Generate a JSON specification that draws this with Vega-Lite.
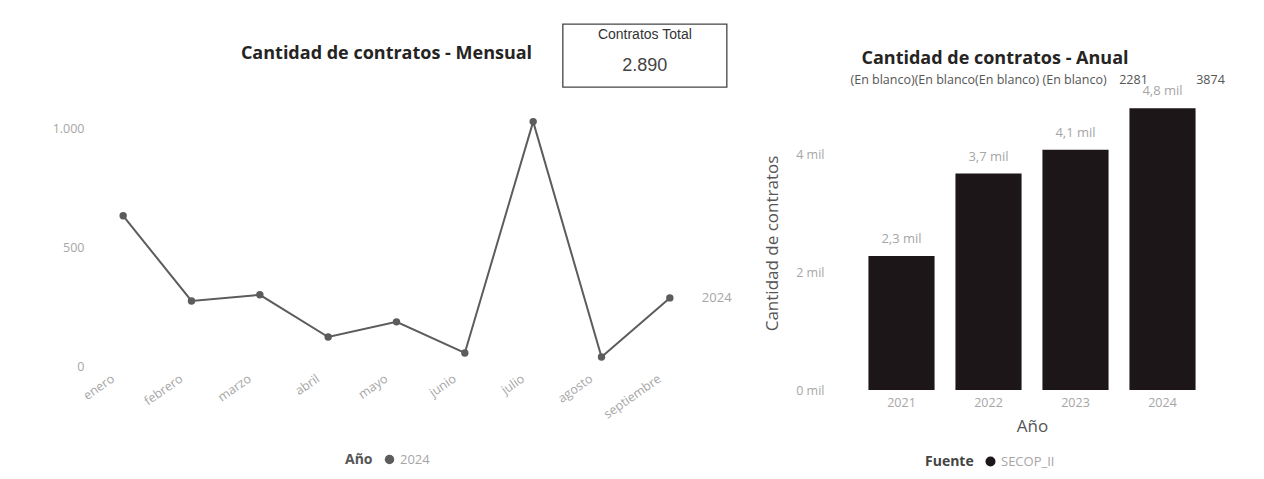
{
  "$schema": "https://vega.github.io/schema/vega-lite/v6.json",
  "background": "white",
  "padding": {"left": 52, "top": 21, "right": 5, "bottom": 2},
  "spacing": 31,
  "resolve": {"scale": {"color": "independent"}, "legend": {"color": "independent"}},
  "config": {
    "view": {"stroke": null},
    "font": "Open Sans",
    "axis": {"labelFont": "Open Sans", "titleFont": "Open Sans", "grid": false, "domain": false, "ticks": false},
    "legend": {"labelFont": "Open Sans", "titleFont": "Open Sans"}
  },
  "datasets": {
    "mensual": [
      {"mes": "enero", "anio": "2024", "contratos": 633},
      {"mes": "febrero", "anio": "2024", "contratos": 274},
      {"mes": "marzo", "anio": "2024", "contratos": 300},
      {"mes": "abril", "anio": "2024", "contratos": 122},
      {"mes": "mayo", "anio": "2024", "contratos": 186},
      {"mes": "junio", "anio": "2024", "contratos": 55},
      {"mes": "julio", "anio": "2024", "contratos": 1030},
      {"mes": "agosto", "anio": "2024", "contratos": 38},
      {"mes": "septiembre", "anio": "2024", "contratos": 287}
    ],
    "anual": [
      {"anio": "2021", "fuente": "SECOP_II", "contratos": 2281, "etiqueta": "2,3 mil"},
      {"anio": "2022", "fuente": "SECOP_II", "contratos": 3680, "etiqueta": "3,7 mil"},
      {"anio": "2023", "fuente": "SECOP_II", "contratos": 4085, "etiqueta": "4,1 mil"},
      {"anio": "2024", "fuente": "SECOP_II", "contratos": 4790, "etiqueta": "4,8 mil"}
    ],
    "tarjeta": [
      {"titulo": "Contratos Total", "valor": "2.890"}
    ],
    "encabezado": [
      {"grupo": "a", "texto": "(En blanco)(En blanco(En blanco) (En blanco)"},
      {"grupo": "b", "texto": "2281"},
      {"grupo": "c", "texto": "3874"}
    ]
  },
  "hconcat": [
    {
      "width": 615,
      "height": 270,
      "title": {"text": "Cantidad de contratos - Mensual", "frame": "group", "anchor": "middle", "dx": -10, "offset": -42, "fontSize": 18, "fontWeight": "bold", "font": "Open Sans", "color": "#252423"},
      "layer": [
        {
          "data": {"name": "mensual"},
          "mark": {"type": "line", "color": "#5c5c5c", "strokeWidth": 2},
          "encoding": {
            "x": {"field": "mes", "type": "ordinal", "scale": {"type": "point", "padding": 0.5, "domain": ["enero","febrero","marzo","abril","mayo","junio","julio","agosto","septiembre"]},
              "axis": {"title": null, "labelAngle": -35, "labelColor": "#a6a6a6", "labelFontSize": 12.5, "labelPadding": 6, "labelOffset": -14}},
            "y": {"field": "contratos", "type": "quantitative", "scale": {"domain": [0, 1138], "nice": false},
              "axis": {"title": null, "values": [0, 500, 1000], "labelExpr": "replace(format(datum.value, ','), ',', '.')", "labelColor": "#a6a6a6", "labelFontSize": 12.5, "labelPadding": 5}}
          }
        },
        {
          "data": {"name": "mensual"},
          "mark": {"type": "point", "filled": true, "size": 55, "opacity": 1},
          "encoding": {
            "x": {"field": "mes", "type": "ordinal"},
            "y": {"field": "contratos", "type": "quantitative"},
            "color": {"field": "anio", "type": "nominal", "scale": {"range": ["#5c5c5c"]},
              "legend": {"title": "Año", "orient": "none", "legendX": 256, "legendY": 357, "direction": "horizontal", "titleOrient": "left", "titleFontSize": 14, "titleFontWeight": "bold", "titleColor": "#555555", "labelColor": "#a6a6a6", "labelFontSize": 13, "symbolType": "circle", "symbolSize": 90, "titlePadding": 10}}
          }
        },
        {
          "data": {"name": "mensual"},
          "transform": [{"filter": "datum.mes == 'septiembre'"}],
          "mark": {"type": "text", "align": "left", "dx": 32, "fontSize": 13, "color": "#a6a6a6"},
          "encoding": {
            "x": {"field": "mes", "type": "ordinal"},
            "y": {"field": "contratos", "type": "quantitative"},
            "text": {"field": "anio"}
          }
        },
        {
          "data": {"name": "tarjeta"},
          "mark": {"type": "point", "shape": "M-1,-0.384H1V0.384H-1Z", "size": 26896, "filled": false, "stroke": "#444444", "strokeWidth": 1.3, "opacity": 1, "xOffset": -25, "yOffset": -2},
          "encoding": {
            "x": {"datum": "septiembre"},
            "y": {"datum": 1300}
          }
        },
        {
          "data": {"name": "tarjeta"},
          "mark": {"type": "text", "dx": -25, "dy": -1, "font": "Liberation Sans", "fontSize": 14, "color": "#333333"},
          "encoding": {
            "x": {"datum": "septiembre"},
            "y": {"datum": 1391},
            "text": {"field": "titulo"}
          }
        },
        {
          "data": {"name": "tarjeta"},
          "mark": {"type": "text", "dx": -25, "dy": -2, "font": "Liberation Sans", "fontSize": 18, "color": "#444444"},
          "encoding": {
            "x": {"datum": "septiembre"},
            "y": {"datum": 1258},
            "text": {"field": "valor"}
          }
        }
      ]
    },
    {
      "width": 348,
      "height": 294,
      "title": {"text": "Cantidad de contratos - Anual", "frame": "group", "anchor": "middle", "dx": -37, "offset": 6, "fontSize": 18, "fontWeight": "bold", "font": "Open Sans", "color": "#252423"},
      "layer": [
        {
          "data": {"name": "anual"},
          "mark": {"type": "bar", "color": "#1c1618"},
          "encoding": {
            "x": {"field": "anio", "type": "ordinal", "scale": {"domain": ["2021","2022","2023","2024"], "paddingInner": 0.24, "paddingOuter": 0.12},
              "axis": {"title": "Año", "labelAngle": 0, "labelColor": "#a6a6a6", "labelFontSize": 12.5, "labelPadding": 6, "titleFontSize": 17, "titleFontWeight": "normal", "titleColor": "#555555", "titlePadding": 10}},
            "y": {"field": "contratos", "type": "quantitative", "scale": {"domain": [0, 5000], "nice": false},
              "axis": {"title": "Cantidad de contratos", "values": [0, 2000, 4000], "labelExpr": "format(datum.value / 1000, 'd') + ' mil'", "labelColor": "#a6a6a6", "labelFontSize": 12.5, "labelPadding": 34, "titleFontSize": 17, "titleFontWeight": "normal", "titleColor": "#555555", "titlePadding": 14}},
            "color": {"field": "fuente", "type": "nominal", "scale": {"range": ["#1c1618"]},
              "legend": {"title": "Fuente", "orient": "none", "legendX": 67, "legendY": 359, "direction": "horizontal", "titleOrient": "left", "titleFontSize": 14, "titleFontWeight": "bold", "titleColor": "#444444", "labelColor": "#a6a6a6", "labelFontSize": 13, "symbolType": "circle", "symbolSize": 100, "titlePadding": 10}}
          }
        },
        {
          "data": {"name": "anual"},
          "mark": {"type": "text", "baseline": "bottom", "dy": -10, "fontSize": 13, "color": "#a6a6a6"},
          "encoding": {
            "x": {"field": "anio", "type": "ordinal"},
            "y": {"field": "contratos", "type": "quantitative"},
            "text": {"field": "etiqueta"}
          }
        },
        {
          "data": {"name": "encabezado"},
          "transform": [{"filter": "datum.grupo == 'a'"}],
          "mark": {"type": "text", "align": "left", "dx": -51, "fontSize": 12.5, "color": "#555555"},
          "encoding": {
            "x": {"datum": "2021"},
            "y": {"datum": 5270},
            "text": {"field": "texto"}
          }
        },
        {
          "data": {"name": "encabezado"},
          "transform": [{"filter": "datum.grupo == 'b'"}],
          "mark": {"type": "text", "dx": -29, "fontSize": 12.5, "color": "#555555"},
          "encoding": {
            "x": {"datum": "2024"},
            "y": {"datum": 5270},
            "text": {"field": "texto"}
          }
        },
        {
          "data": {"name": "encabezado"},
          "transform": [{"filter": "datum.grupo == 'c'"}],
          "mark": {"type": "text", "dx": 48, "fontSize": 12.5, "color": "#555555"},
          "encoding": {
            "x": {"datum": "2024"},
            "y": {"datum": 5270},
            "text": {"field": "texto"}
          }
        }
      ]
    }
  ]
}
